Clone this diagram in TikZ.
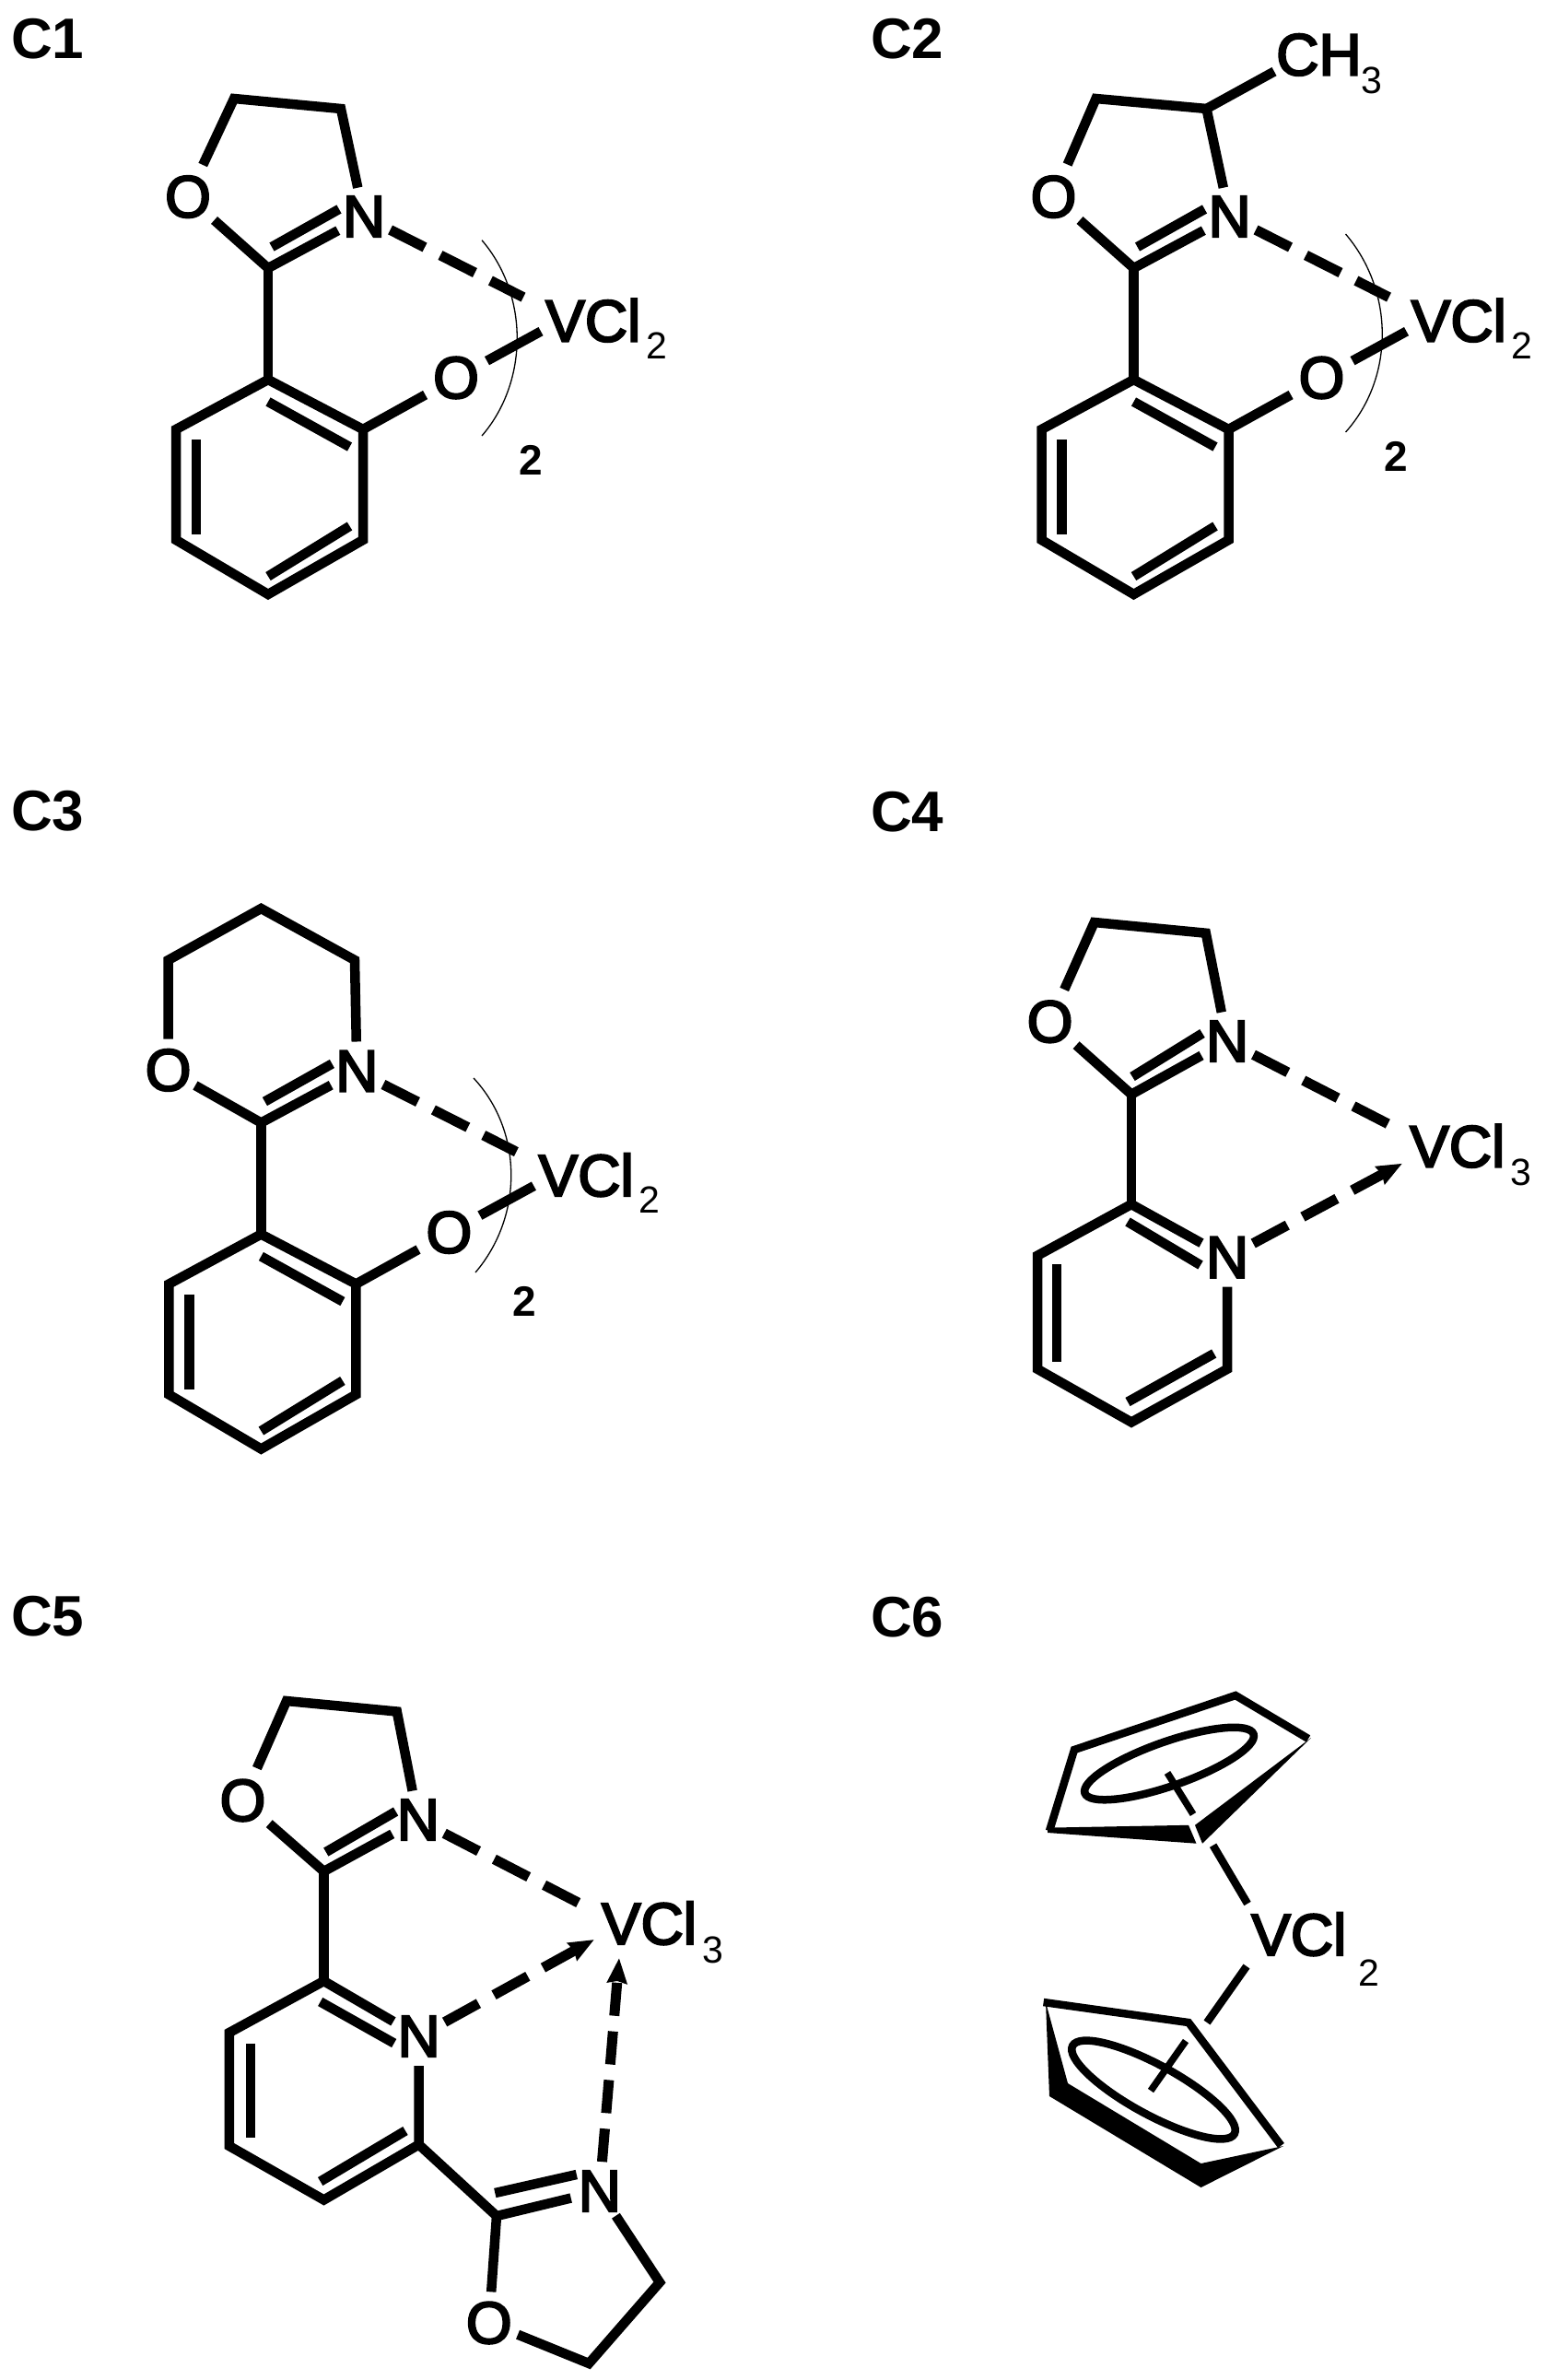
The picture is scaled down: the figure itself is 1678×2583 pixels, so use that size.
\documentclass[tikz,border=0pt]{standalone}
\usepackage{fontspec}
\setmainfont{Liberation Sans}
\newfontfamily\atomfont[FakeBold=3.5]{Liberation Sans}
\newfontfamily\boldfont{Liberation Sans Bold}
\usetikzlibrary{arrows.meta}
\newcommand\subfont{\normalfont\fontsize{41}{41}\selectfont}
\tikzset{
  bond/.style={line width=10.5pt,line cap=butt,line join=miter,miter limit=4},
  dashbond/.style={line width=11pt,dash pattern=on 42pt off 19pt},
  dashshort/.style={line width=11pt,dash pattern=on 36pt off 17pt},
  arrowtip/.style={-{Stealth[length=27pt,width=21pt,inset=2pt]}},
  brace/.style={line width=1.3pt},
  ringellipse/.style={line width=8.5pt},
  atomO/.style={circle,inner sep=0pt,minimum size=76pt,font=\atomfont\fontsize{64}{64}\selectfont},
  atomN/.style={circle,inner sep=0pt,minimum size=60pt,font=\atomfont\fontsize{64}{64}\selectfont},
  formula/.style={anchor=base west,inner sep=0pt,font=\atomfont\fontsize{64}{64}\selectfont},
  panel/.style={anchor=base west,inner sep=0pt,font=\boldfont\fontsize{62}{62}\selectfont},
  count/.style={inner sep=0pt,font=\boldfont\fontsize{46}{46}\selectfont},
}
% the phenoxy-imine fragment shared by C1, C2, C3; #1 = name prefix, #2 = ring O position, #3 = ring O options
\newcommand\phenfrag[3]{%
  \node[atomN] (#1N) at (395,235) {N};
  \node[atomO,#3] (#1Oa) at #2 {O};
  \node[atomO] (#1Ob) at (495,410) {O};
  \node[formula] (#1V) at (592,370.5) {VCl\kern6pt\lower18.5pt\hbox{\subfont 2}};
  \coordinate (#1im) at (291,291);
  \coordinate (#1a1) at (291,412);
  \coordinate (#1a2) at (394,466);
  \coordinate (#1a3) at (394,586);
  \coordinate (#1a4) at (291,645);
  \coordinate (#1a5) at (191,586);
  \coordinate (#1a6) at (191,466);
  \coordinate (#1i1) at (295,268);
  \coordinate (#1i2) at (368,227);
  \coordinate (#1b1) at (291,436);
  \coordinate (#1b2) at (379.5,485);
  \coordinate (#1b3) at (213,477);
  \coordinate (#1b4) at (213,580);
  \coordinate (#1b5) at (291,625.5);
  \coordinate (#1b6) at (379.5,571);
  \coordinate (#1Va) at (568,322.6);
  \coordinate (#1Vb) at (587,359.6);
  \draw[bond] (#1Oa) -- (#1im) -- (#1N);
  \draw[bond] (#1i1) -- (#1i2);
  \draw[bond] (#1im) -- (#1a1);
  \draw[bond] (#1a1) -- (#1a2) -- (#1a3) -- (#1a4) -- (#1a5) -- (#1a6) -- cycle;
  \draw[bond] (#1b1) -- (#1b2);
  \draw[bond] (#1b3) -- (#1b4);
  \draw[bond] (#1b5) -- (#1b6);
  \draw[bond] (#1a2) -- (#1Ob);
  \draw[dashbond] (#1N) -- (#1Va);
  \draw[bond] (#1Ob) -- (#1Vb);
}
\begin{document}
\begin{tikzpicture}[x=1pt,y=-1pt]
\useasboundingbox[fill=white] (0,0) rectangle (1678,2583);

% ---------- C1
\node[panel] (labC1) at (12,63) {C1};
\begin{scope}
  \phenfrag{p}{(204,213.6)}{}
  \coordinate (ptl) at (254,107);
  \coordinate (ptr) at (370,118);
  \draw[bond] (pOa) -- (ptl) -- (ptr) -- (pN);
  \coordinate (parcA) at (523,260.7);
  \coordinate (parcB) at (523,473);
  \draw[brace] (parcA) .. controls (574,320) and (574,414) .. (parcB);
  \node[count] (pcount) at (576,499) {2};
\end{scope}

% ---------- C2
\node[panel] (labC2) at (945,63) {C2};
\begin{scope}[shift={(939.5,0)}]
  \phenfrag{q}{(204,213.6)}{}
  \coordinate (qtl) at (250,107);
  \coordinate (qtr) at (370,118);
  \draw[bond] (qOa) -- (qtl) -- (qtr) -- (qN);
  \coordinate (qarcA) at (521,254);
  \coordinate (qarcB) at (521,469);
  \draw[brace] (qarcA) .. controls (574,316) and (574,410) .. (qarcB);
  \node[count] (qcount) at (576,495) {2};
  \node[formula] (qme) at (445.5,81.5) {CH\lower19.5pt\hbox{\subfont 3}};
  \coordinate (qmeb) at (443.5,77.6);
  \draw[bond] (qtr) -- (qmeb);
\end{scope}

% ---------- C3
\node[panel] (labC3) at (12,901) {C3};
\begin{scope}[shift={(-7.6,927.5)}]
  \phenfrag{r}{(190.2,233.9)}{minimum size=62pt}
\end{scope}
\coordinate (rt) at (283.4,986);
\coordinate (rtl) at (182.6,1042);
\coordinate (rtr) at (385,1042);
\draw[bond] (rOa) -- (rtl) -- (rt) -- (rtr) -- (rN);
\coordinate (rarcA) at (514,1170);
\coordinate (rarcB) at (516,1381);
\draw[brace] (rarcA) .. controls (568,1228) and (568,1320) .. (rarcB);
\node[count] (rcount) at (568.8,1412) {2};

% ---------- C4
\node[panel] (labC4) at (945,902) {C4};
\node[atomO] (sO) at (1139.6,1108.8) {O};
\node[atomN] (sNa) at (1332,1130) {N};
\node[atomN] (sNb) at (1332,1364.6) {N};
\node[formula] (sV) at (1530,1266.5) {VCl\kern6pt\lower19.5pt\hbox{\subfont 3}};
\coordinate (stl) at (1187.7,1001);
\coordinate (str) at (1308.8,1012.7);
\coordinate (sim) at (1228,1187.7);
\coordinate (si1) at (1229,1168.5);
\coordinate (si2) at (1305,1121.5);
\coordinate (sp1) at (1228,1307);
\coordinate (sp2) at (1126,1362.7);
\coordinate (sp3) at (1126,1485.8);
\coordinate (sp4) at (1228,1543.5);
\coordinate (sp5) at (1332,1485.8);
\coordinate (sd1) at (1224,1326);
\coordinate (sd2) at (1303,1373);
\coordinate (sd3) at (1147,1372);
\coordinate (sd4) at (1147,1478);
\coordinate (sd5) at (1224,1521.5);
\coordinate (sd6) at (1317.7,1469);
\coordinate (sVa) at (1507,1220);
\coordinate (sVb) at (1522,1262.7);
\draw[bond] (sO) -- (stl) -- (str) -- (sNa);
\draw[bond] (sO) -- (sim) -- (sNa);
\draw[bond] (si1) -- (si2);
\draw[bond] (sim) -- (sp1);
\draw[bond] (sNb) -- (sp1) -- (sp2) -- (sp3) -- (sp4) -- (sp5) -- (sNb);
\draw[bond] (sd1) -- (sd2);
\draw[bond] (sd3) -- (sd4);
\draw[bond] (sd5) -- (sd6);
\draw[dashbond] (sNa) -- (sVa);
\draw[dashbond,arrowtip] (sNb) -- (sVb);

% ---------- C5
\node[panel] (labC5) at (12,1775) {C5};
\node[atomO] (tOa) at (263.5,1954) {O};
\node[atomN] (tNa) at (453.8,1975) {N};
\node[atomN] (tNb) at (454.6,2210) {N};
\node[atomN] (tNc) at (650.8,2378) {N};
\node[atomO,minimum size=62pt] (tOc) at (530.8,2521) {O};
\node[formula] (tV) at (652.7,2110) {VCl\kern6pt\lower20pt\hbox{\subfont 3}};
\coordinate (ttl) at (311,1846);
\coordinate (ttr) at (430.8,1857.5);
\coordinate (tim) at (351.5,2031);
\coordinate (ti1) at (353.8,2010);
\coordinate (ti2) at (429.6,1966);
\coordinate (tp1) at (351.5,2150);
\coordinate (tp2) at (248.8,2206);
\coordinate (tp3) at (248.8,2329);
\coordinate (tp4) at (351.5,2387.5);
\coordinate (tp5) at (454.6,2327.5);
\coordinate (td1) at (347.7,2172.5);
\coordinate (td2) at (427.7,2217.5);
\coordinate (td3) at (272,2217.5);
\coordinate (td4) at (272,2320);
\coordinate (td5) at (347.7,2367.5);
\coordinate (td6) at (440,2312.5);
\coordinate (tim2) at (539,2405);
\coordinate (tj1) at (537.3,2380);
\coordinate (tj2) at (625.8,2360);
\coordinate (tc1) at (716,2477);
\coordinate (tc2) at (639.2,2565);
\coordinate (tVa) at (627.7,2065);
\coordinate (tVb) at (645,2105);
\coordinate (tVc) at (672,2125);
\draw[bond] (tOa) -- (ttl) -- (ttr) -- (tNa);
\draw[bond] (tOa) -- (tim) -- (tNa);
\draw[bond] (ti1) -- (ti2);
\draw[bond] (tim) -- (tp1);
\draw[bond] (tNb) -- (tp1) -- (tp2) -- (tp3) -- (tp4) -- (tp5) -- (tNb);
\draw[bond] (td1) -- (td2);
\draw[bond] (td3) -- (td4);
\draw[bond] (td5) -- (td6);
\draw[bond] (tp5) -- (tim2);
\draw[bond] (tNc) -- (tim2) -- (tOc);
\draw[bond] (tj1) -- (tj2);
\draw[bond] (tNc) -- (tc1) -- (tc2) -- (tOc);
\draw[dashbond] (tNa) -- (tVa);
\draw[dashbond,arrowtip] (tNb) -- (tVb);
\draw[dashshort,arrowtip] (tNc) -- (tVc);

% ---------- C6
\node[panel] (labC6) at (945,1776) {C6};
\node[formula] (uV) at (1358,2122) {VCl\kern13pt\lower33pt\hbox{\subfont 2}};
\coordinate (ua1) at (1139,1987);
\coordinate (ua2) at (1166,1899);
\coordinate (ua3) at (1341,1840);
\coordinate (ua4) at (1420,1887);
\draw[bond,line width=8.5pt] (ua1) -- (ua2) -- (ua3) -- (ua4);
\coordinate (uw1) at (1137,1983.6);
\coordinate (uw2) at (1290,1980.8);
\coordinate (uw3) at (1298.5,2000.7);
\coordinate (uw4) at (1137,1989);
\fill (uw4) -- (uw1) -- (uw2) -- (uw3) -- cycle;
\coordinate (uw5) at (1423,1886);
\coordinate (uw6) at (1297,1980.8);
\coordinate (uw7) at (1305,2000.7);
\fill (uw5) -- (uw6) -- (uw7) -- cycle;
\draw[ringellipse,shift={(1269,1914)},rotate=19.3] (0,0) ellipse (97pt and 24pt);
\coordinate (ux1) at (1267,1924);
\coordinate (ux2) at (1295,1969);
\draw[bond,line width=7.5pt] (ux1) -- (ux2);
\coordinate (uy1) at (1316.6,2002.7);
\coordinate (uy2) at (1354,2066);
\draw[bond,line width=8.5pt] (uy1) -- (uy2);

\coordinate (ub1) at (1132.6,2173);
\coordinate (ub2) at (1290,2195);
\coordinate (ub3) at (1390.5,2328.5);
\draw[bond,line width=8.5pt] (ub1) -- (ub2) -- (ub3);
\coordinate (uz1) at (1135,2173);
\coordinate (uz2) at (1139,2275);
\coordinate (uz3) at (1303.5,2374);
\coordinate (uz4) at (1393,2329);
\coordinate (uz5) at (1303.5,2348);
\coordinate (uz6) at (1159,2261);
\fill (uz1) -- (uz2) -- (uz3) -- (uz4) -- (uz5) -- (uz6) -- cycle;
\draw[ringellipse,shift={(1252,2268)},rotate=-28.6] (0,0) ellipse (100pt and 27pt);
\coordinate (uc1) at (1287,2215);
\coordinate (uc2) at (1249,2269);
\draw[bond,line width=7.5pt] (uc1) -- (uc2);
\coordinate (ud1) at (1353,2134);
\coordinate (ud2) at (1310,2195);
\draw[bond,line width=8.5pt] (ud1) -- (ud2);
\end{tikzpicture}
\end{document}
